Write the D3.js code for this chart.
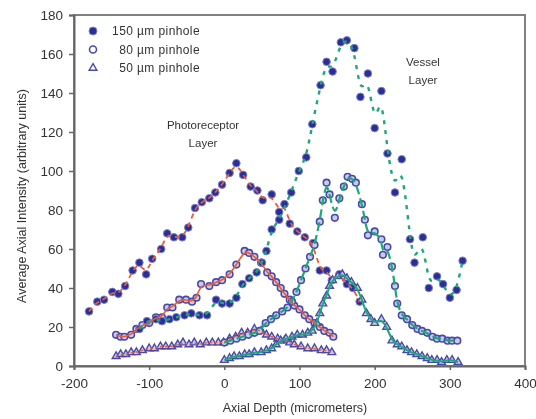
<!DOCTYPE html>
<html>
<head>
<meta charset="utf-8">
<style>
  body { margin: 0; background: #fff; }
  text { font-family: "Liberation Sans", Arial, sans-serif; fill: #333; }
</style>
</head>
<body>
<div id="container"></div>
<script src="https://cdn.jsdelivr.net/npm/d3@7"></script>
<script>
// Tick values
const xTicks = [-200, -100, 0, 100, 200, 300, 400];
const yTicks = [0, 20, 40, 60, 80, 100, 120, 140, 160, 180];

// Photoreceptor layer, [depth, intensity]
const photo150 = [[-180,28],[-169,33],[-160,34],[-149,38],[-141,37],[-132,41],[-122,49],[-113,53],[-104,47],[-96,55],[-84,60],[-76,68],[-67,66],[-56,66],[-48,71],[-39,81],[-30,84],[-20,86],[-12,89],[-3,93],[7,99],[16,104],[25,98],[35,92],[44,90],[51,85],[63,88],[73,79],[80,83],[87,73],[97,69],[107,66],[118,63],[127,49],[136,49],[143,44],[153,47],[163,42],[171,40],[180,33]];
const photo80 = [[-144,16],[-138,15],[-133,15],[-124,16],[-117,19],[-109,21],[-100,22],[-91,25],[-83,25],[-76,30],[-69,30],[-60,34],[-51,34],[-43,33],[-37,35],[-31,42],[-20,41],[-11,43],[-3,44],[7,47],[16,52],[27,59],[33,58],[40,56],[49,53],[57,48],[63,46],[69,43],[75,40],[80,37],[87,34],[93,31],[100,29],[107,26],[113,24],[120,22],[127,20],[133,18],[140,17],[145,15]];
const photo50 = [[-144,5],[-138,6],[-131,6],[-124,7],[-117,7],[-109,8],[-100,9],[-93,9],[-85,10],[-78,10],[-70,10],[-62,11],[-55,12],[-47,11],[-40,12],[-32,11],[-24,12],[-16,12],[-8,12],[-1,12],[7,14],[15,15],[23,17],[31,17],[40,19],[49,18],[56,16],[63,15],[71,14],[80,13],[87,12],[93,11],[102,10],[111,9],[120,9],[129,8],[136,8],[143,7]];

// Vessel layer, [depth, intensity]
const vessel150 = [[-113,19],[-103,23],[-91,24],[-83,23],[-73,24],[-64,25],[-53,26],[-44,27],[-33,26],[-23,26],[-11,34],[-3,32],[7,32],[16,35],[24,42],[33,45],[43,48],[50,53],[56,59],[63,70],[73,75],[89,89],[99,100],[109,107],[117,124],[128,144],[136,156],[144,151],[155,166],[163,167],[173,163],[181,138],[191,150],[200,122],[209,141],[217,109],[227,89],[236,106],[247,65],[253,53],[264,66],[272,40],[283,46],[291,42],[300,35],[309,39],[317,54]];
const vessel80 = [[0,12],[8,13],[16,14],[24,15],[32,16],[40,17],[47,18],[55,22],[62,24],[69,26],[77,28],[84,30],[90,33],[96,38],[102,44],[108,50],[114,56],[120,62],[127,74],[131,85],[136,94],[140,88],[147,76],[153,86],[159,92],[164,97],[170,96],[175,94],[183,83],[187,75],[191,67],[200,69],[209,65],[211,57],[217,61],[223,51],[227,41],[230,32],[236,26],[243,24],[250,21],[257,19],[263,18],[270,17],[277,15],[283,14],[290,14],[297,13],[303,13],[310,13]];
const vessel50 = [[0,3],[7,4],[13,5],[20,5],[27,6],[33,6],[40,7],[49,7],[56,8],[63,9],[69,11],[75,13],[82,14],[90,15],[97,16],[104,16],[111,17],[117,18],[123,22],[127,27],[131,32],[136,36],[140,41],[144,44],[151,46],[157,47],[163,45],[169,43],[177,40],[183,34],[189,27],[195,24],[200,22],[209,24],[216,20],[223,13],[230,11],[236,10],[243,8],[249,7],[256,6],[263,5],[270,4],[276,3],[283,3],[289,2],[296,3],[303,3],[311,2]];

const legendLabels = ["150 \u00b5m pinhole", "80 \u00b5m pinhole", "50 \u00b5m pinhole"];

const width = 536;
const height = 419;
const marginTop = 15;
const marginRight = 11;
const marginBottom = 53;
const marginLeft = 74;

const red = "#ee5a32";
const green = "#1aa878";
const blue = "#2c2f96";

const x = d3.scaleLinear()
    .domain([-200, 400])
    .range([marginLeft, width - marginRight]);

const y = d3.scaleLinear()
    .domain([0, 180])
    .range([height - marginBottom, marginTop]);

const svg = d3.create("svg")
    .attr("width", width)
    .attr("height", height);

// soft blur, the reference is a fuzzy scan
svg.append("defs").append("filter")
    .attr("id", "soft")
    .append("feGaussianBlur")
    .attr("stdDeviation", 0.55);

const root = svg.append("g").attr("filter", "url(#soft)");

// Plot frame
root.append("rect")
    .attr("x", marginLeft)
    .attr("y", marginTop)
    .attr("width", width - marginLeft - marginRight)
    .attr("height", height - marginTop - marginBottom)
    .attr("fill", "none")
    .attr("stroke", "#808080")
    .attr("stroke-width", 2);

// Axes (plain hyphen for negatives, like the original)
const xAxis = root.append("g")
    .attr("transform", `translate(0,${height - marginBottom})`)
    .call(d3.axisBottom(x).tickValues(xTicks).tickFormat(d => String(d)).tickSize(4).tickPadding(8));

const yAxis = root.append("g")
    .attr("transform", `translate(${marginLeft},0)`)
    .call(d3.axisLeft(y).tickValues(yTicks).tickFormat(d => String(d)).tickSize(5).tickPadding(6));

[xAxis, yAxis].forEach(a => {
  a.select(".domain").attr("stroke", "#666").attr("stroke-width", 2);
  a.selectAll(".tick line").attr("stroke", "#666").attr("stroke-width", 1.5);
  a.selectAll(".tick text")
      .attr("font-size", 13.5)
      .attr("font-family", "Liberation Sans, Arial, sans-serif")
      .attr("fill", "#444");
});

// Axis titles
root.append("text")
    .attr("x", 295)
    .attr("y", 412)
    .attr("text-anchor", "middle")
    .attr("font-size", 12.5)
    .text("Axial Depth (micrometers)");

root.append("text")
    .attr("transform", "translate(26,196) rotate(-90)")
    .attr("text-anchor", "middle")
    .attr("font-size", 12.5)
    .text("Average Axial Intensity (arbitrary units)");

// Markers
const triangle = d3.symbol().type(d3.symbolTriangle).size(26);

function dots(data, kind) {
  const g = root.append("g");
  if (kind === "filled") {
    g.selectAll("circle").data(data).join("circle")
        .attr("cx", d => x(d[0]))
        .attr("cy", d => y(d[1]))
        .attr("r", 3.8)
        .attr("fill", blue)
        .attr("stroke", "#7f82c8")
        .attr("stroke-width", 1);
  } else if (kind === "open") {
    g.selectAll("circle").data(data).join("circle")
        .attr("cx", d => x(d[0]))
        .attr("cy", d => y(d[1]))
        .attr("r", 3.3)
        .attr("fill", "#c9cbee")
        .attr("stroke", "#4a4aa8")
        .attr("stroke-width", 1.6);
  } else {
    g.selectAll("path").data(data).join("path")
        .attr("transform", d => `translate(${x(d[0])},${y(d[1])})`)
        .attr("d", triangle)
        .attr("fill", "#c9cbee")
        .attr("stroke", "#4a4aa8")
        .attr("stroke-width", 1.4);
  }
}

dots(photo150, "filled");
dots(photo80, "open");
dots(photo50, "tri");
dots(vessel150, "filled");
dots(vessel80, "open");
dots(vessel50, "tri");

// Fit lines
const line = d3.line()
    .x(d => x(d[0]))
    .y(d => y(d[1]))
    .curve(d3.curveBasis);

function fit(data, color, dash, w) {
  root.append("path")
      .attr("fill", "none")
      .attr("stroke", color)
      .attr("stroke-width", w)
      .attr("stroke-dasharray", dash)
      .attr("d", line(data));
}

fit(photo150, red, "5,4", 1.8);
fit(photo80, red, null, 1.6);
fit(photo50, red, "3,2", 1.4);
fit(vessel150, green, "4,6", 2.4);
fit(vessel80, green, "9,4", 2.2);
fit(vessel50, green, null, 2);

// Legend
const legend = root.append("g");
const legendKinds = ["filled", "open", "tri"];
legendLabels.forEach((label, i) => {
  const ly = 31 + i * 18.5;
  const lx = 93;
  if (legendKinds[i] === "filled") {
    legend.append("circle").attr("cx", lx).attr("cy", ly).attr("r", 4)
        .attr("fill", blue).attr("stroke", "#7f82c8");
  } else if (legendKinds[i] === "open") {
    legend.append("circle").attr("cx", lx).attr("cy", ly).attr("r", 3.5)
        .attr("fill", "#fff").attr("stroke", "#4a4aa8").attr("stroke-width", 1.6);
  } else {
    legend.append("path").attr("transform", `translate(${lx},${ly})`)
        .attr("d", triangle).attr("fill", "#fff")
        .attr("stroke", "#4a4aa8").attr("stroke-width", 1.4);
  }
  legend.append("text")
      .attr("x", 200)
      .attr("y", ly + 4)
      .attr("text-anchor", "end")
      .attr("font-size", 12)
      .attr("letter-spacing", 0.4)
      .text(label);
});

// Layer annotations
function note(lines, cx, cy) {
  const t = root.append("text")
      .attr("text-anchor", "middle")
      .attr("font-size", 11.5);
  lines.forEach((s, i) => {
    t.append("tspan").attr("x", cx).attr("y", cy + i * 18).text(s);
  });
}
note(["Photoreceptor", "Layer"], 203, 129);
note(["Vessel", "Layer"], 423, 66);

container.append(svg.node());
</script>
</body>
</html>
